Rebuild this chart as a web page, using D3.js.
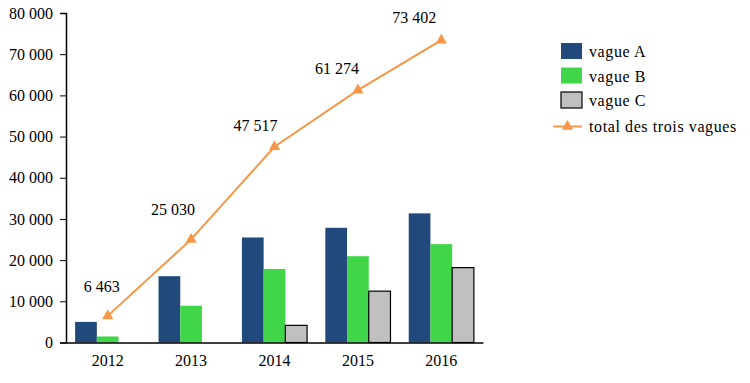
<!DOCTYPE html>
<html>
<head>
<meta charset="utf-8">
<script src="https://cdn.jsdelivr.net/npm/d3@7"></script>
<style>
	body { margin: 0; background: #fff; }
	svg text { font-family: "Liberation Serif", serif; font-size: 16px; fill: #000; }
	.legend text { letter-spacing: 0.6px; }
</style>
</head>
<body>
<svg id="chart" width="750" height="383"></svg>
<script>
const years = ["2012", "2013", "2014", "2015", "2016"];
const vagueA = [5000, 16100, 25500, 27850, 31350];
const vagueB = [1463, 8930, 17850, 20960, 23880];
const vagueC = [0, 0, 4167, 12464, 18172];
const total = [6463, 25030, 47517, 61274, 73402];
const yTicks = [0, 10000, 20000, 30000, 40000, 50000, 60000, 70000, 80000];
const seriesNames = ["vague A", "vague B", "vague C"];
const lineName = "total des trois vagues";

const colors = { "vague A": "#21497b", "vague B": "#41d64a", "vague C": "#c0c0c0" };
const lineColor = "#f79646";

const fr = d3.formatLocale({ decimal: ",", thousands: " ", grouping: [3], currency: ["", ""] });
const fmt = fr.format(",");

const svg = d3.select("#chart");
const margin = { left: 66, right: 267, top: 13, bottom: 40 };
const width = +svg.attr("width");
const height = +svg.attr("height");

const x0 = d3.scaleBand()
	.domain(years)
	.range([margin.left, width - margin.right]);

const x1 = d3.scaleBand()
	.domain(seriesNames)
	.range([0, x0.bandwidth()])
	.paddingOuter(0.42);

const y = d3.scaleLinear()
	.domain([0, 80000])
	.range([height - margin.bottom - 0.5, margin.top]);

const rows = years.map((yr, i) => ({
	year: yr,
	values: [
		{ key: "vague A", value: vagueA[i] },
		{ key: "vague B", value: vagueB[i] },
		{ key: "vague C", value: vagueC[i] }
	]
}));

// bars
const groups = svg.append("g")
	.selectAll("g")
	.data(rows)
	.enter()
	.append("g")
	.attr("transform", d => `translate(${x0(d.year)},0)`);

groups.selectAll("rect")
	.data(d => d.values.filter(v => v.value > 0))
	.enter()
	.append("rect")
	.attr("x", d => x1(d.key))
	.attr("y", d => y(d.value))
	.attr("width", x1.bandwidth())
	.attr("height", d => y(0) - y(d.value))
	.style("fill", d => colors[d.key])
	.style("stroke", d => d.key === "vague C" ? "#000" : "none")
	.style("stroke-width", 1.2);

// axes
const yAxis = svg.append("g")
	.attr("transform", `translate(${margin.left},0)`)
	.call(d3.axisLeft(y).tickValues(yTicks).tickFormat(fmt).tickSize(6).tickPadding(7));
yAxis.selectAll("text").style("font-size", "16px").style("font-family", "Liberation Serif, serif");
yAxis.select(".domain").attr("stroke-width", 1.5);

const xAxis = svg.append("g")
	.attr("transform", `translate(0,${y(0)})`)
	.call(d3.axisBottom(x0).tickSize(0).tickPadding(12));
xAxis.selectAll("text").style("font-size", "16px").style("font-family", "Liberation Serif, serif");
xAxis.select(".domain").attr("stroke-width", 1.5);

// total line
const line = d3.line()
	.x((d, i) => x0(years[i]) + x0.bandwidth() / 2)
	.y(d => y(d));

svg.append("path")
	.datum(total)
	.attr("d", line)
	.style("fill", "none")
	.style("stroke", lineColor)
	.style("stroke-width", 2);

const tri = d3.symbol().type(d3.symbolTriangle).size(55);

svg.selectAll(".marker")
	.data(total)
	.enter()
	.append("path")
	.attr("class", "marker")
	.attr("d", tri)
	.attr("transform", (d, i) => `translate(${x0(years[i]) + x0.bandwidth() / 2},${y(d)})`)
	.style("fill", lineColor);

const labelDx = [-6, -18, -19, -21, -27];
const labelDy = [-24, -24, -16, -16, -17];

svg.selectAll(".label")
	.data(total)
	.enter()
	.append("text")
	.attr("class", "label")
	.attr("x", (d, i) => x0(years[i]) + x0.bandwidth() / 2 + labelDx[i])
	.attr("y", (d, i) => y(d) + labelDy[i])
	.attr("text-anchor", "middle")
	.text(d => fmt(d));

// legend
const legend = svg.append("g").attr("class", "legend").attr("transform", "translate(561,43)");
seriesNames.forEach((name, i) => {
	const g = legend.append("g").attr("transform", `translate(0,${i * 24.5})`);
	g.append("rect")
		.attr("width", 21)
		.attr("height", 16)
		.style("fill", colors[name])
		.style("stroke", name === "vague C" ? "#000" : "none")
		.style("stroke-width", 1.2);
	g.append("text")
		.attr("x", 28)
		.attr("y", 14)
		.text(name);
});
const lg = legend.append("g").attr("transform", `translate(0,${3 * 24.5})`);
lg.append("line")
	.attr("x1", -8).attr("x2", 21)
	.attr("y1", 10).attr("y2", 10)
	.style("stroke", lineColor)
	.style("stroke-width", 2);
lg.append("path")
	.attr("d", tri)
	.attr("transform", "translate(6.5,10)")
	.style("fill", lineColor);
lg.append("text")
	.attr("x", 28)
	.attr("y", 15)
	.text(lineName);
</script>
</body>
</html>
